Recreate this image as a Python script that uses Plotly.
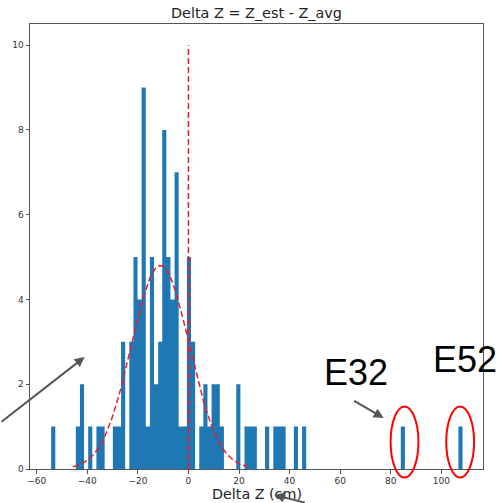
import numpy as np
import plotly.graph_objects as go

# ---------------- data ----------------
bin_min = -54.3
bin_max = 108.4
n_bins = 100
counts = [1, 0, 0, 0, 0, 0, 1, 2, 0, 1,
          0, 1, 1, 0, 0, 1, 1, 3, 0, 3,
          5, 4, 9, 1, 5, 2, 3, 8, 5, 4,
          7, 1, 1, 5, 3, 0, 1, 2, 1, 2,
          2, 1, 0, 0, 0, 2, 0, 1, 1, 1,
          0, 0, 1, 0, 1, 1, 1, 0, 0, 1,
          0, 1, 0, 0, 0, 0, 0, 0, 0, 0,
          0, 0, 0, 0, 0, 0, 0, 0, 0, 0,
          0, 0, 0, 0, 0, 1, 0, 0, 0, 0,
          0, 0, 0, 0, 0, 0, 0, 0, 0, 1]
fit_mu = -11.1
fit_sigma = 11.5
fit_amp = 4.8
ref_line_x = 0
ref_line_top = 10
x_ticks = [-60, -40, -20, 0, 20, 40, 60, 80, 100]
y_ticks = [0, 2, 4, 6, 8, 10]
labels = ["E32", "E52"]

# ---------------- derived ----------------
width = (bin_max - bin_min) / n_bins
edges = bin_min + width * np.arange(n_bins + 1)
step_y = list(counts) + [counts[-1]]
fx = np.linspace(fit_mu - 3 * fit_sigma, fit_mu + 3 * fit_sigma, 200)
fy = fit_amp * np.exp(-0.5 * ((fx - fit_mu) / fit_sigma) ** 2)

W, H = 500, 503
L, R, T, B = 27, 17, 24, 34
PW, PH = W - L - R, H - T - B


def px(x):
    return (x - L) / PW


def py(y):
    return (H - B - y) / PH


fig = go.Figure()
# histogram drawn as a filled step outline (solid, gap-free like matplotlib)
fig.add_trace(go.Scatter(x=edges, y=step_y, mode="lines", line_shape="hv",
                         line=dict(width=0, color="#1f77b4"),
                         fill="tozeroy", fillcolor="#1f77b4",
                         showlegend=False))
fig.add_trace(go.Scatter(x=fx, y=fy, mode="lines",
                         line=dict(color="#ee1c25", width=1.5, dash="6px,3px"),
                         showlegend=False))
fig.add_trace(go.Scatter(x=[ref_line_x, ref_line_x], y=[0, ref_line_top], mode="lines",
                         line=dict(color="#ee1c25", width=1.5, dash="6px,3px"),
                         showlegend=False))

axis_common = dict(showline=True, mirror=True, linecolor="#555", linewidth=1,
                   ticks="outside", ticklen=3.5, tickcolor="#555", tickwidth=1,
                   showgrid=False, zeroline=False,
                   tickfont=dict(family="DejaVu Sans", size=9, color="#333"))

fig.update_layout(
    width=W, height=H,
    margin=dict(l=L, r=R, t=T, b=B),
    paper_bgcolor="white", plot_bgcolor="white",
    title=dict(text="Delta Z = Z_est - Z_avg", x=0.5, xref="paper",
               y=1 - 13 / H, yref="container", yanchor="middle", xanchor="center",
               font=dict(family="DejaVu Sans", size=14.4, color="#222")),
    xaxis=dict(range=[-62.67, 116.5], tickvals=x_ticks, **axis_common),
    yaxis=dict(range=[0, 10.5], tickvals=y_ticks, **axis_common),
)

# x-axis label
fig.add_annotation(text="Delta Z (cm)", xref="paper", yref="paper",
                   x=px(255), y=py(494), xanchor="center", yanchor="middle",
                   showarrow=False,
                   font=dict(family="DejaVu Sans", size=14.3, color="#222"))

# big labels
fig.add_annotation(text=labels[0], xref="paper", yref="paper",
                   x=px(355), y=py(372), xanchor="center", yanchor="middle",
                   showarrow=False,
                   font=dict(family="Liberation Sans", size=36, color="black"))
fig.add_annotation(text=labels[1], xref="paper", yref="paper",
                   x=px(465), y=py(359), xanchor="center", yanchor="middle",
                   showarrow=False,
                   font=dict(family="Liberation Sans", size=36, color="black"))

# arrows
arrow_style = dict(showarrow=True, arrowhead=2, arrowsize=1, arrowwidth=2,
                   arrowcolor="#555555", text="", xref="paper", yref="paper",
                   axref="pixel", ayref="pixel")
fig.add_annotation(x=px(82), y=py(357), ax=-102, ay=66, **arrow_style)
fig.add_annotation(x=px(383), y=py(418), ax=-31, ay=-18, **arrow_style)
fig.add_annotation(x=px(273), y=py(495), ax=32, ay=9, **arrow_style)

# ellipses
for cx in (404, 460):
    fig.add_shape(type="circle", xref="paper", yref="paper",
                  x0=px(cx - 14), x1=px(cx + 14), y0=py(477.5), y1=py(406.5),
                  line=dict(color="red", width=2), fillcolor="rgba(0,0,0,0)")

fig.write_html("out.html")
